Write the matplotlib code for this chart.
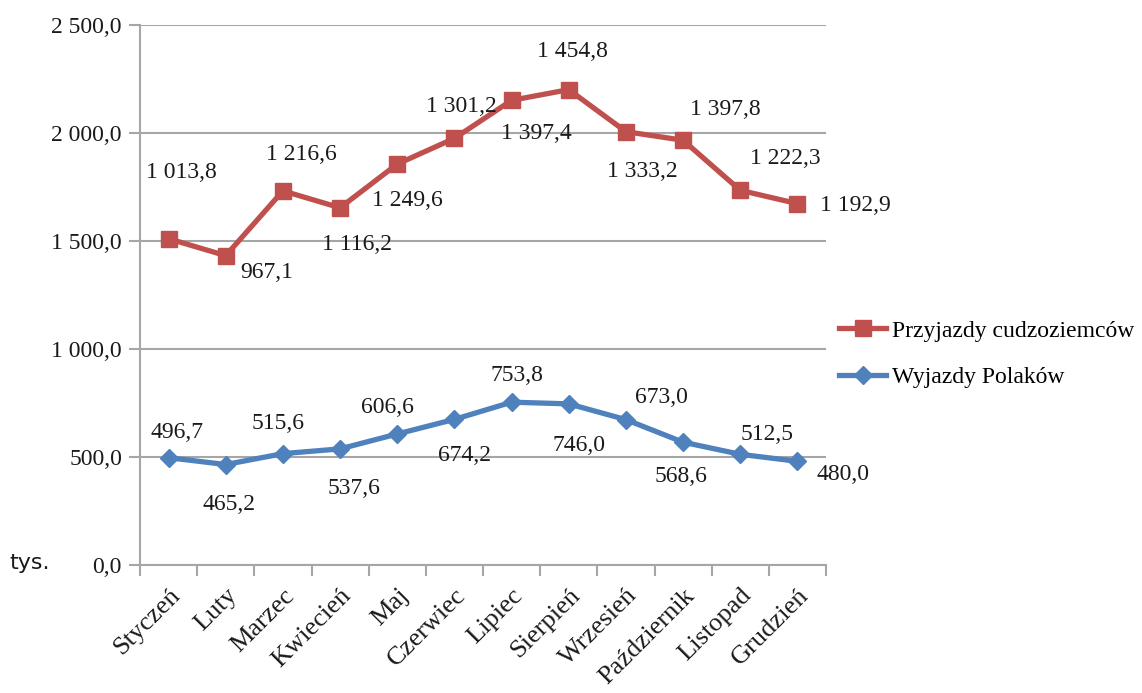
import matplotlib
matplotlib.use("Agg")
import matplotlib.pyplot as plt
import numpy as np

months = ["Styczeń", "Luty", "Marzec", "Kwiecień", "Maj", "Czerwiec",
          "Lipiec", "Sierpień", "Wrzesień", "Październik", "Listopad", "Grudzień"]
wyjazdy_polakow = [496.7, 465.2, 515.6, 537.6, 606.6, 674.2,
                   753.8, 746.0, 673.0, 568.6, 512.5, 480.0]
przyjazdy_cudzoziemcow = [1013.8, 967.1, 1216.6, 1116.2, 1249.6, 1301.2,
                          1397.4, 1454.8, 1333.2, 1397.8, 1222.3, 1192.9]
y_ticks = [0, 500, 1000, 1500, 2000, 2500]

# label offsets in pixels (dx, dy), dy positive = upwards
red_offsets = [(13, 66), (41, -17), (18, 36), (17, -37), (10, -36), (7, 32),
               (25, -33), (4, 38), (16, -40), (42, 31), (45, 32), (58, -2)]
blue_offsets = [(8, 25), (3, -40), (-5, 30), (14, -40), (-10, 26), (10, -36),
                (5, 27), (10, -42), (36, 22), (-2, -34), (27, 20), (46, -13)]

RED = "#C0504D"
BLUE = "#4F81BD"
GRID = "#A6A6A6"
TEXT = "#1a1a1a"
SERIF = "Liberation Serif"
FS = 17


def fmt(v):
    return f"{v:,.1f}".replace(",", " ").replace(".", ",")


fig = plt.figure(figsize=(11.42, 6.93), dpi=100)
ax = fig.add_axes([140 / 1142, 1 - 565 / 693, 686 / 1142, 540 / 693])

x = np.arange(len(months))
w = np.array(wyjazdy_polakow)
p = np.array(przyjazdy_cudzoziemcow)
stacked = w + p  # stacked line chart: arrivals drawn on top of departures

ax.plot(x, stacked, color=RED, lw=3.8, marker="s", ms=12, zorder=3,
        label="Przyjazdy cudzoziemców")
ax.plot(x, w, color=BLUE, lw=3.8, marker="D", ms=9.5, zorder=3,
        label="Wyjazdy Polaków")

for xi, yi, v, (dx, dy) in zip(x, stacked, p, red_offsets):
    ax.annotate(fmt(v), (xi, yi), xytext=(dx, dy), textcoords="offset pixels",
                ha="center", va="center", fontsize=FS, family=SERIF, color=TEXT)
for xi, yi, v, (dx, dy) in zip(x, w, w, blue_offsets):
    ax.annotate(fmt(v), (xi, yi), xytext=(dx, dy), textcoords="offset pixels",
                ha="center", va="center", fontsize=FS, family=SERIF, color=TEXT)

ax.set_xlim(-0.5, len(months) - 0.5)
ax.set_ylim(0, 2500)
ax.set_yticks(y_ticks)
ax.set_yticklabels([fmt(t) for t in y_ticks], family=SERIF, fontsize=FS,
                   color=TEXT)
ax.yaxis.grid(True, color=GRID, lw=1.5)
ax.set_axisbelow(True)

ax.set_xticks(np.arange(len(months) + 1) - 0.5)
ax.set_xticklabels([])
ax.set_xticks(x, minor=True)
ax.set_xticklabels(months, minor=True, rotation=45, ha="right", va="top",
                   rotation_mode="anchor", family=SERIF, fontsize=19,
                   color=TEXT)
ax.tick_params(axis="x", which="major", length=8, width=1.5, color=GRID)
ax.tick_params(axis="x", which="minor", length=0, pad=14)
ax.tick_params(axis="y", length=8, width=1.5, color=GRID, pad=5)

for side in ["top", "right"]:
    ax.spines[side].set_visible(False)
for side in ["left", "bottom"]:
    ax.spines[side].set_color(GRID)
    ax.spines[side].set_linewidth(1.5)

fig.text(30 / 1142, 1 - 563 / 693, "tys.", fontsize=16, family="DejaVu Sans",
         ha="center", va="center", color=TEXT)

leg = ax.legend(loc="center left", bbox_to_anchor=(818 / 1142, 1 - 354 / 693),
                bbox_transform=fig.transFigure, frameon=False,
                prop={"family": SERIF, "size": FS}, handlelength=2.0,
                handletextpad=0.25, labelspacing=1.05)

fig.savefig("out.png", dpi=100)
